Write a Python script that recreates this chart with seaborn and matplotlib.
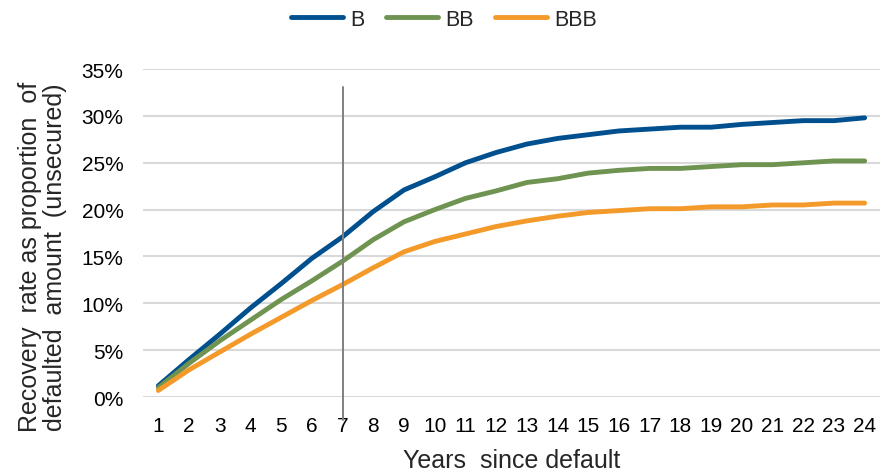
import matplotlib
matplotlib.use("Agg")
import matplotlib.pyplot as plt
import seaborn as sns
import pandas as pd
from matplotlib.ticker import FuncFormatter
from matplotlib.lines import Line2D

years = list(range(1, 25))
b_vals = [1.2, 4.0, 6.7, 9.5, 12.1, 14.8, 17.1, 19.8, 22.1, 23.5, 25.0, 26.1, 27.0, 27.6,
          28.0, 28.4, 28.6, 28.8, 28.8, 29.1, 29.3, 29.5, 29.5, 29.8]
bb_vals = [1.0, 3.6, 6.0, 8.2, 10.4, 12.4, 14.5, 16.8, 18.7, 20.0, 21.2, 22.0, 22.9, 23.3,
           23.9, 24.2, 24.4, 24.4, 24.6, 24.8, 24.8, 25.0, 25.2, 25.2]
bbb_vals = [0.7, 2.9, 4.8, 6.7, 8.5, 10.3, 12.0, 13.8, 15.5, 16.6, 17.4, 18.2, 18.8, 19.3,
            19.7, 19.9, 20.1, 20.1, 20.3, 20.3, 20.5, 20.5, 20.7, 20.7]
series_names = ["B", "BB", "BBB"]
colors = ["#00508F", "#6F9350", "#F39A2B"]
yticks = [0, 5, 10, 15, 20, 25, 30, 35]
marker_year = 7
marker_span = (-2.5, 33.1)

df = pd.DataFrame({
    "year": years * 3,
    "value": b_vals + bb_vals + bbb_vals,
    "series": ["B"] * 24 + ["BB"] * 24 + ["BBB"] * 24,
})

sns.set_theme(style="white")
plt.rcParams["font.family"] = ["Liberation Sans", "DejaVu Sans"]

fig = plt.figure(figsize=(8.88, 4.77), dpi=100)
ax = fig.add_axes([0.161, 0.1656, 0.830, 0.6874])

lw = 3.5
sns.lineplot(data=df, x="year", y="value", hue="series", hue_order=series_names,
             palette=colors, linewidth=lw, ax=ax, legend=False,
             solid_capstyle="round", zorder=3)

ax.plot([marker_year, marker_year], list(marker_span), color="#808080",
        linewidth=1.4, clip_on=False, zorder=4)

ax.set_xlim(0.5, 24.5)
ax.set_ylim(0, 35)
ax.set_yticks(yticks)
ax.yaxis.set_major_formatter(FuncFormatter(lambda v, p: f"{int(v)}%"))
ax.set_xticks(years)
ax.set_xticklabels([str(y) for y in years])
ax.tick_params(axis="both", length=0, labelsize=15, colors="#000000")
ax.tick_params(axis="x", pad=14)
ax.tick_params(axis="y", pad=14)
for s in ax.spines.values():
    s.set_visible(False)
ax.grid(axis="y", color="#D9D9D9", linewidth=1.5, zorder=0)
ax.set_axisbelow(True)

ax.set_xlabel("Years  since default", fontsize=18, labelpad=9)
ax.set_ylabel("Recovery  rate as proportion  of\ndefaulted  amount  (unsecured)",
              fontsize=18, linespacing=1.05)
ax.yaxis.set_label_coords(-0.103, 0.43)

handles = [Line2D([0], [0], color=c, linewidth=lw, solid_capstyle="round") for c in colors]
fig.legend(handles, series_names, loc="center", bbox_to_anchor=(0.5, 0.958),
           ncol=3, frameon=False, fontsize=15.5, handlelength=2.4, columnspacing=1.0,
           handletextpad=0.35, borderaxespad=0)

fig.savefig("out.png", dpi=100)
